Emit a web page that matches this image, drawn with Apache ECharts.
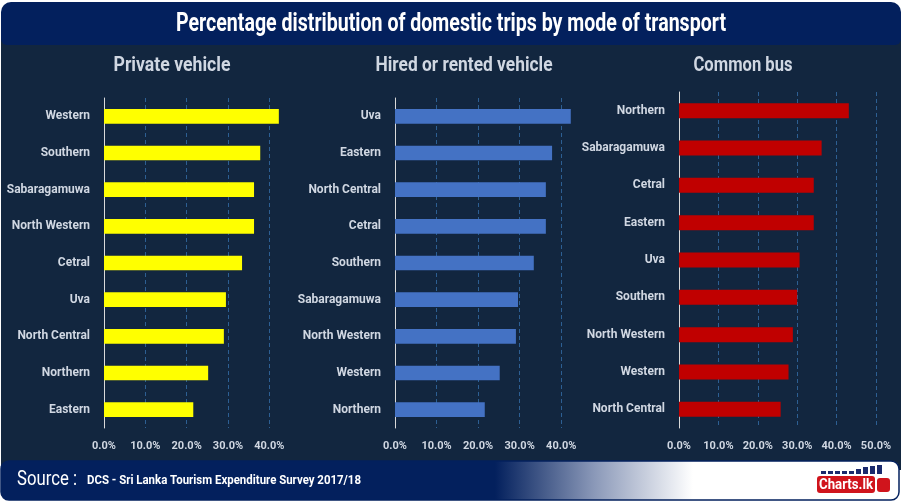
<!DOCTYPE html>
<html><head><meta charset="utf-8">
<script src="https://cdn.jsdelivr.net/npm/echarts@6/dist/echarts.min.js"></script>
<style>html,body{margin:0;padding:0;background:#fff}#c{width:902px;height:502px}</style>
</head><body><div id="c"></div>
<script>
var title = 'Percentage distribution of domestic trips by mode of transport';
var panelTitles = ['Private vehicle', 'Hired or rented vehicle', 'Common bus'];
var privateCats = ['Western','Southern','Sabaragamuwa','North Western','Cetral','Uva','North Central','Northern','Eastern'];
var privateVals = [42.3, 37.8, 36.3, 36.3, 33.4, 29.5, 29.0, 25.2, 21.6];
var hiredCats = ['Uva','Eastern','North Central','Cetral','Southern','Sabaragamuwa','North Western','Western','Northern'];
var hiredVals = [42.3, 37.8, 36.3, 36.3, 33.4, 29.6, 29.1, 25.2, 21.6];
var busCats = ['Northern','Sabaragamuwa','Cetral','Eastern','Uva','Southern','North Western','Western','North Central'];
var busVals = [43.1, 36.2, 34.2, 34.2, 30.6, 30.0, 28.9, 27.8, 25.8];
var sourceLabel = 'Source :';
var sourceText = 'DCS - Sri Lanka Tourism Expenditure Survey 2017/18';
var logoText = 'Charts.lk';

var FONT = 'Roboto, "Liberation Sans", sans-serif';
var chart = echarts.init(document.getElementById('c'));

var mctx = document.createElement('canvas').getContext('2d');
function fitScale(text, font, target) {
  mctx.font = font;
  var w = mctx.measureText(text).width;
  return w > 0 ? target / w : 1;
}
function squeezedText(text, font, x, y, target, fill, align, z) {
  var s = fitScale(text, font, target);
  return {type:'text', z:z || 5, x:x, y:y, scaleX:s, scaleY:1,
    style:{text:text, fill:fill, font:font, align:align || 'center', verticalAlign:'middle'}};
}

var grids = [
  {left:104, top:98, width:186, height:330, outerBoundsMode:'none', containLabel:false},
  {left:395, top:98, width:187, height:330, outerBoundsMode:'none', containLabel:false},
  {left:679, top:92, width:197, height:336, outerBoundsMode:'none', containLabel:false}
];
var maxes = [45, 45, 50];
var cats = [privateCats, hiredCats, busCats];
var vals = [privateVals, hiredVals, busVals];
var colors = ['#ffff00', '#4472c4', '#c00000'];

var xAxes = [], yAxes = [], series = [];
for (var i = 0; i < 3; i++) {
  xAxes.push({
    type:'value', gridIndex:i, min:0, max:maxes[i], interval:10,
    axisLine:{show:false}, axisTick:{show:false},
    axisLabel:{color:'#d0d7e2', fontFamily:FONT, fontSize:11, fontWeight:'bold', margin:13,
      showMaxLabel: i === 2, formatter:function(v){return v.toFixed(1)+'%';}},
    splitLine:{show:true, showMinLine:false, showMaxLine: i === 2, lineStyle:{color:'#2d5f93', type:[4,3], width:1}}
  });
  yAxes.push({
    type:'category', gridIndex:i, data:cats[i], inverse:true,
    axisLine:{show:true, lineStyle:{color:'#d9d9d9', width:1}}, axisTick:{show:false},
    axisLabel:{color:'#d0d7e2', fontFamily:FONT, fontSize:12, fontWeight:'bold', margin:14},
    splitLine:{show:false}
  });
  series.push({
    type:'bar', xAxisIndex:i, yAxisIndex:i, data:vals[i], barWidth:'40%',
    itemStyle:{color:colors[i]}, z:3
  });
}

var graphic = [
  {type:'rect', z:-10, silent:true, shape:{x:1, y:30, width:900, height:440}, style:{fill:'#12263f'}},
  {type:'rect', z:-9, silent:true, shape:{x:1, y:2, width:900, height:43, r:[10,10,6,6]}, style:{fill:'#03205d'}},
  squeezedText(title, 'bold 25px ' + FONT, 451, 25, 550, '#ffffff'),
  squeezedText(panelTitles[0], 'bold 20px ' + FONT, 172, 66, 117, '#d0d7e2'),
  squeezedText(panelTitles[1], 'bold 20px ' + FONT, 464, 66, 177, '#d0d7e2'),
  squeezedText(panelTitles[2], 'bold 20px ' + FONT, 743, 66, 99, '#d0d7e2'),
  {type:'rect', z:-8, silent:true, shape:{x:1, y:461, width:898, height:39, r:8},
    style:{stroke:'#03205d', lineWidth:1.5, fill:{type:'linear', x:0, y:0, x2:1, y2:0, colorStops:[
      {offset:0, color:'#03205d'}, {offset:0.55, color:'#03205d'}, {offset:0.66, color:'#8a98b8'}, {offset:0.77, color:'#ffffff'}, {offset:1, color:'#ffffff'}]}}},
  squeezedText(sourceLabel, '20px ' + FONT, 17, 480, 60, '#ffffff', 'left'),
  squeezedText(sourceText, 'bold 13px ' + FONT, 87, 481, 274, '#ffffff', 'left'),
  {type:'rect', z:5, shape:{x:817, y:476, width:58, height:17, r:3}, style:{fill:'#d0141c'}},
  squeezedText(logoText, 'bold 15px ' + FONT, 846, 485, 54, '#ffffff', 'center', 6),
  {type:'rect', z:5, shape:{x:877, y:478, width:13, height:14, r:3}, style:{fill:'#d0141c'}}
];
var logoBars = [3,3,3,3,3,5,7,8,9];
for (var k = 0; k < logoBars.length; k++) {
  graphic.push({type:'rect', z:5, shape:{x:821 + k*7, y:474 - logoBars[k], width:5, height:logoBars[k]}, style:{fill:'#1a2a6e'}});
}

chart.setOption({
  backgroundColor:'#ffffff',
  animation:false,
  grid:grids,
  xAxis:xAxes,
  yAxis:yAxes,
  series:series,
  graphic:graphic
});
</script></body></html>
